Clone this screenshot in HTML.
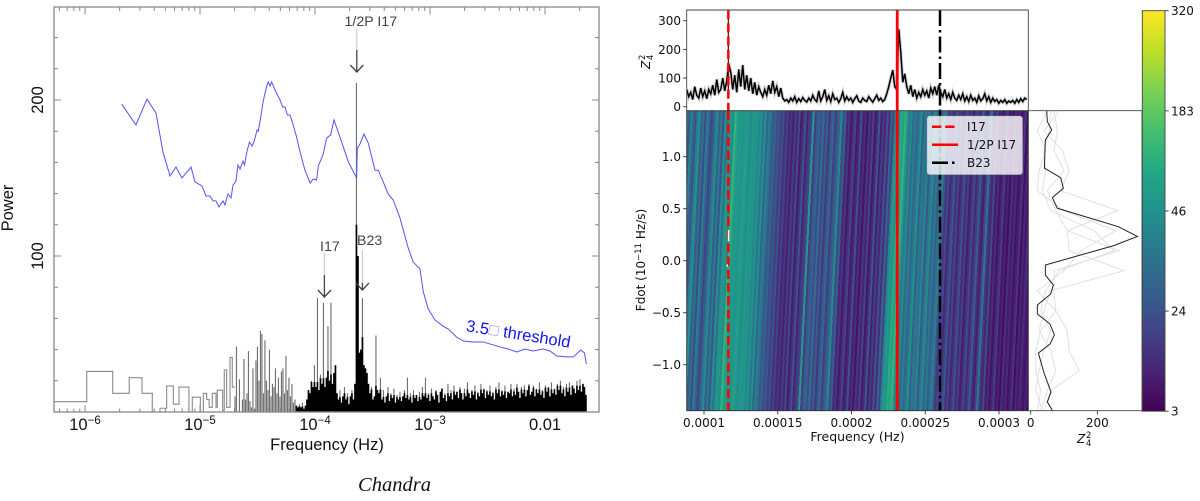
<!DOCTYPE html>
<html lang="en">
<head>
<meta charset="utf-8">
<title>Chandra power spectrum and Z²₄ search</title>
<style>
html,body{margin:0;padding:0;background:#fff;}
svg{display:block;}
.hv{font-family:"Liberation Sans",sans-serif;}
.dj{font-family:"DejaVu Sans",sans-serif;font-size:12px;fill:#111;}
</style>
</head>
<body>
<svg id="fig" xmlns="http://www.w3.org/2000/svg" width="1200" height="501" viewBox="0 0 1200 501">
<defs>
<clipPath id="clipTop"><rect x="686.7" y="10" width="341.6" height="100.7"/></clipPath>
<clipPath id="clipHeat"><rect x="686.7" y="110.7" width="341.6" height="300"/></clipPath>
<clipPath id="clipMarg"><rect x="1028.3" y="110.7" width="113.7" height="300"/></clipPath>
<linearGradient id="viridisGrad" x1="0" y1="1" x2="0" y2="0">
<stop offset="0" stop-color="#440154"/><stop offset="0.1" stop-color="#482475"/><stop offset="0.2" stop-color="#414487"/><stop offset="0.3" stop-color="#355f8d"/><stop offset="0.4" stop-color="#2a788e"/><stop offset="0.5" stop-color="#21918c"/><stop offset="0.6" stop-color="#22a884"/><stop offset="0.7" stop-color="#44bf70"/><stop offset="0.8" stop-color="#7ad151"/><stop offset="0.9" stop-color="#bddf26"/><stop offset="1" stop-color="#fde725"/>
</linearGradient>
</defs>

<g id="leftChart"></g>
<text class="hv" font-size="16.5" fill="#111" text-anchor="middle" transform="translate(13,208) rotate(-90)">Power</text>
<text class="hv" font-size="16.5" fill="#111" text-anchor="middle" x="327" y="450">Frequency (Hz)</text>
<text font-family="'Liberation Serif',serif" font-style="italic" font-size="20.5" fill="#111" text-anchor="middle" x="394.500" y="491">Chandra</text>
<text class="hv" font-size="16.5" fill="#1515ee" transform="translate(465.500,331) rotate(9.200)">3.5<tspan fill="#9a9af5">□</tspan> threshold</text>

<g id="topPanel"></g>
<g id="heatPanel"></g>
<g id="margPanel"></g>
<g id="cbar"></g>

<g transform="translate(650,69) rotate(-90)">
<text class="dj" font-style="italic" x="0" y="0">Z</text>
<text class="dj" style="font-size:8.500px" x="9" y="-5">2</text>
<text class="dj" style="font-size:8.500px" x="9" y="3">4</text>
</g>
<text class="dj" style="font-size:12px" text-anchor="middle" transform="translate(645,260) rotate(-90)">Fdot (10<tspan dy="-4" style="font-size:8.500px">−11</tspan><tspan dy="4"> Hz/s)</tspan></text>
<text class="dj" style="font-size:12.500px" text-anchor="middle" x="857.500" y="441">Frequency (Hz)</text>
<g transform="translate(1077,443)">
<text class="dj" font-style="italic" x="0" y="0">Z</text>
<text class="dj" style="font-size:8.500px" x="9" y="-5">2</text>
<text class="dj" style="font-size:8.500px" x="9" y="3">4</text>
</g>

<g>
<rect x="927.300" y="116.300" width="95" height="58" rx="2.500" fill="#fff" fill-opacity="0.8" stroke="#ccc" stroke-width="0.800"/>
<line x1="932" x2="958" y1="126.700" y2="126.700" stroke="#f00" stroke-width="2.500" stroke-dasharray="9.250 4"/>
<text class="dj" x="967" y="131">I17</text>
<line x1="932" x2="958" y1="144.700" y2="144.700" stroke="#f00" stroke-width="2.500"/>
<text class="dj" x="967" y="149">1/2P I17</text>
<line x1="932" x2="958" y1="162.700" y2="162.700" stroke="#000" stroke-width="2.500" stroke-dasharray="16 4 2.500 4"/>
<text class="dj" x="967" y="167">B23</text>
</g>
</svg>

<script>
/* ---------- left chart data ---------- */
const thresholdLogFreq = [-5.681,-5.557,-5.461,-5.383,-5.322,-5.261,-5.209,-5.157,-5.078,-5.043,-4.983,-4.948,-4.913,-4.887,-4.861,-4.835,-4.8,-4.783,-4.757,-4.73,-4.713,-4.687,-4.67,-4.652,-4.626,-4.613,-4.591,-4.57,-4.548,-4.528,-4.504,-4.493,-4.472,-4.45,-4.42,-4.406,-4.391,-4.377,-4.339,-4.304,-4.281,-4.261,-4.24,-4.217,-4.194,-4.165,-4.13,-4.087,-4.043,-4.015,-3.986,-3.971,-3.928,-3.899,-3.864,-3.835,-3.768,-3.71,-3.638,-3.632,-3.609,-3.574,-3.537,-3.478,-3.45,-3.406,-3.363,-3.32,-3.261,-3.189,-3.145,-3.087,-3.058,-3.015,-2.957,-2.887,-2.841,-2.768,-2.71,-2.626,-2.539,-2.391,-2.322,-2.246,-2.174,-2.104,-2.017,-1.957,-1.898,-1.812,-1.754,-1.689,-1.657,-1.64];
const thresholdPower = [197.4,184,200.6,191.7,166.7,151.3,157,150,157,147.4,144.9,138.5,138.5,135.3,135.3,131.4,135.3,132.7,139.7,137.2,145.5,148,158.3,155.8,160.9,158.3,167.3,173,170.5,173.7,180.8,180,189,199.4,209,211.5,209,211.5,205,200,195.5,195.5,190.4,190.4,185,177.6,166.7,155,146.8,149.4,148.7,157.7,165.4,175.6,177.6,187.2,173,160.3,150,169.2,171.8,178.2,172.4,155,155,147.4,139.7,135.9,124.4,105,96,91.7,76.9,66,59,55,53.2,48,45.5,44.9,44.9,41.7,40.4,38.5,40.4,39.1,40.4,39.1,35.9,35.3,35.3,39.7,37.8,30.8];
const stepEdgesLog = [-6.27,-5.985,-5.759,-5.615,-5.504,-5.415,-5.348,-5.29,-5.232,-5.183,-5.096,-5.067,-4.997,-4.971,-4.942,-4.92,-4.893,-4.861,-4.85,-4.803,-4.789,-4.768,-4.739,-4.719,-4.696];
const stepPower = [6.6,26,12,22,12,0,2.4,16.7,5,16,0,9.5,0,12,8,3,12,3,14,1,27,3,35,16];
const spikeStartLog = -4.696;
const spikeStepLog = 0.013043;
const spikePower = [10,42,0,21,0,8,34,8,12,39,7,3,28,2,33,42,20,52,
50,12,46,20,14,40,10,18,16,28,12,22,10,26,28,12,36,14,22,10,18,6,8,4,3,5,
3,6,2,4,8,14,12,20,16,30,16,73,14,24,18,70,16,22,55,20,70,18,25,30,12,8,14,6,10,16,8,12,5,10,14,8,18,211,100,38,40,73,30,28,25,18,12,16,8,10,49,14,12,22,
8,14,6,10,16,7,12,9,15,6,11,8,13,7,10,14,9,22,8,12,6,14,9,11,7,13,8,16,10,22,9,12,7,15,10,8,14,11,6,13,
15,9,12,7,18,10,14,8,17,11,13,9,16,12,8,15,10,19,12,9,14,11,17,8,13,10,18,12,15,9,14,11,17,10,13,8,16,12,19,10,
14,11,17,9,13,12,18,10,15,11,18,13,9,16,12,17,10,14,18,11,13,17,10,15,12,19,11,14,9,17,13,16,10,19,12,15,11,18,14,20,12,16,10,18,13,19,11,17,15,12,20,14,21,13,18,16,11];
const decadeExponents = [-6,-5,-4,-3];
const powerTicks = [100,200];

/* ---------- right chart data ---------- */
const markerFreqI17 = 1.165e-4;
const markerFreqHalfP = 2.31e-4;
const markerFreqB23 = 2.6e-4;
const freqTicks = [1e-4,1.5e-4,2e-4,2.5e-4,3e-4];
const freqTickLabels = ["0.0001","0.00015","0.0002","0.00025","0.0003"];
const zTopTicks = [0,100,200,300];
const fdotTicks = [1,0.5,0,-0.5,-1];
const fdotTickLabels = ["1.0","0.5","0.0","−0.5","−1.0"];
const marginalTicks = [0,200];
const colorbarTicks = [3,24,46,183,320];
const traceStartFreq = 8.83e-5;
const traceStepFreq = 1.356e-6;
const traceZ = [60,35,50,25,70,40,30,65,35,55,28,60,45,75,40,95,50,60,100,55,90,
150,120,60,110,50,130,70,145,60,110,55,100,45,85,40,70,50,35,60,40,75,45,90,50,70,35,65,30,20,
25,15,30,20,35,15,28,18,32,22,16,30,20,40,25,18,55,20,35,60,22,38,18,45,25,30,15,28,50,20,35,22,30,15,28,38,20,15,30,22,18,35,25,16,28,40,22,30,18,25,
45,70,100,128,70,60,270,190,85,115,70,45,75,35,60,30,50,35,60,40,55,30,65,45,70,40,75,50,35,60,30,45,25,50,30,22,40,25,45,20,35,18,40,22,30,15,38,20,28,45,20,35,15,30,18,25,12,22,15,25,12,20,15,22,12,25,15,28,18,30,25];
const stripeStartFreq = 8.2e-5;
const stripeStepFreq = 1.356e-6;
const stripeZ = [30,36,26,42,30,
24,38,48,28,34,22,40,30,20,26,36,44,28,38,24,46,34,52,60,44,
130,90,56,70,48,62,80,52,44,66,50,
58,42,50,36,46,30,40,34,26,
30,22,26,18,24,14,20,12,
16,10,18,12,22,9,15,24,11,17,
20,70,18,26,30,22,34,20,28,16,26,32,18,24,30,44,22,28,
12,16,8,14,20,9,12,24,10,14,7,16,11,20,8,13,26,10,18,12,
24,14,30,20,42,70,46,110,85,130,
60,38,44,32,40,30,36,46,28,38,34,42,26,36,44,30,38,28,34,40,
24,16,22,12,18,26,14,20,11,17,24,13,19,9,15,22,12,18,28,14,10,20,36,16,12,22,
9,14,7,12,18,8,11,6,15,9,13,7,10,16,6,12,8,14,9,7,11,6,13,8];
const stripeTiltFreqPerFdot = 3.5e-6;
const marginFdot = [1.442,1.337,1.257,1.161,0.891,0.798,0.696,0.606,0.504,0.327,0.233,0.144,-0.041,-0.138,-0.234,-0.32,-0.426,-0.513,-0.609,-0.714,-0.801,-0.888,-1.08,-1.262,-1.358,-1.445];
const marginZ = [48,50,63,44,41,90,98,65,80,263,320,248,44,44,68,60,20,20,58,71,58,23,40,61,50,66];
const greyFdot = [1.442,1.25,1.058,0.865,0.673,0.481,0.288,0.096,-0.096,-0.288,-0.481,-0.673,-0.865,-1.058,-1.25,-1.442];
const greyA = [85,40,95,115,90,262,110,115,280,60,40,25,60,75,50,30];
const greyB = [50,20,45,25,20,100,255,150,100,20,75,110,115,145,60,40];
const greyC = [70,80,70,100,50,75,110,265,70,70,75,30,15,15,30,20];
const greyD = [60,55,40,45,35,60,190,250,85,45,30,60,40,25,15,35];

/* ---------- axis functions ---------- */
const xL = l => 85 + (l + 6) * 115;
const yL = p => 412 - p * 1.56;
const xF = f => 704 + (f - 1e-4) * 1.475e6;
const yT = z => 106.7 - z * 0.2867;
const yD = d => 260.7 - d * 104;
const xM = z => 1030.7 + z / 3;
const NS = "http://www.w3.org/2000/svg";
function mk(parent, tag, attrs, text){
  const el = document.createElementNS(NS, tag);
  for (const k in attrs) el.setAttribute(k, attrs[k]);
  if (text !== undefined) el.textContent = text;
  parent.appendChild(el);
  return el;
}

/* ---------- left chart ---------- */
const L = document.getElementById('leftChart');
const gray = "#888";
let tickD = "";
for (let e = -7; e <= -1; e++) {
  for (let m = 1; m <= 9; m++) {
    const lg = e + Math.log10(m);
    const x = xL(lg);
    if (x < 54 || x > 599) continue;
    const len = m === 1 ? 7 : 3.5;
    tickD += `M${x} 412V${412 - len}M${x} 7.500V${7.500 + len}`;
  }
}
for (let p = 0; p <= 250; p += 20) {
  const y = yL(p);
  if (y < 8) continue;
  tickD += `M54 ${y}H${p % 100 === 0 ? 61 : 58}M599 ${y}H${p % 100 === 0 ? 592 : 595}`;
}
const ticksEl = mk(L, 'path', {d: tickD, stroke: gray, 'stroke-width': 1, fill: 'none'});



let stepD = `M${xL(stepEdgesLog[0])} ${yL(stepPower[0])}`;
stepPower.forEach((p, i) => { stepD += `H${xL(stepEdgesLog[i + 1])}V${yL(stepPower[i + 1] === undefined ? p : stepPower[i + 1])}`; });
const stepEl = mk(L, 'path', {d: stepD, stroke: '#8a8a8a', 'stroke-width': 1.100, fill: 'none'});



let spikeD = "";
let baseD = "";
spikePower.forEach((p, i) => {
  const x = xL(spikeStartLog + i * spikeStepLog);
  spikeD += `M${x} 412V${yL(p)}`;
  if (x >= 296) {
    const prev = i > 0 ? spikePower[i - 1] : p;
    const next = i < spikePower.length - 1 ? spikePower[i + 1] : p;
    const mid = [prev, p, next].sort((a, b) => a - b)[1];
    baseD += `M${x} 412V${yL(Math.min(p, mid * 1.2))}`;
  }
});
const spikeEl = mk(L, 'path', {d: spikeD, stroke: '#707070', 'stroke-width': 1.150, fill: 'none'});


const baseEl = mk(L, 'path', {d: baseD, stroke: '#000', 'stroke-width': 1.650, fill: 'none'});



const thEl = mk(L, 'polyline', {points: thresholdLogFreq.map((l, i) => `${xL(l)},${yL(thresholdPower[i])}`).join(' '), fill: 'none', stroke: '#5252ff', 'stroke-width': 1});



const frameEl = mk(L, 'rect', {x: 54, y: 7, width: 545, height: 405, fill: 'none', stroke: gray, 'stroke-width': 1.300});



powerTicks.forEach(p => {
  const t = mk(L, 'text', {class: 'hv', 'font-size': 16.500, fill: '#111', 'text-anchor': 'middle', transform: `translate(43,${yL(p)}) rotate(-90)`}, String(p));
  
  
});
decadeExponents.forEach(e => {
  const t = mk(L, 'text', {class: 'hv', 'font-size': 16.500, fill: '#111', 'text-anchor': 'middle', x: xL(e), y: 430});
  
  
  mk(t, 'tspan', {}, '10');
  mk(t, 'tspan', {dy: -6, 'font-size': 11.500}, '−' + Math.abs(e));
});
const t001 = mk(L, 'text', {class: 'hv', 'font-size': 16.500, fill: '#111', 'text-anchor': 'middle', x: xL(-2), y: 430}, '0.01');



const arrowX = [356.8, 324.4, 362.4];
const arrowTop = [29, 253, 250];
const arrowMid = [50, 275, 283];
const arrowTip = [72, 297, 290];
const arrowLabel = ["1/2P I17", "I17", "B23"];
const arrowLabelX = [344.5, 320, 357];
const arrowLabelY = [26, 251, 245];
arrowLabel.forEach((name, i) => {
  const light = mk(L, 'line', {x1: arrowX[i], x2: arrowX[i], y1: arrowTop[i], y2: arrowMid[i], stroke: '#cfcfcf', 'stroke-width': 1.300});
  
  
  const a = mk(L, 'path', {d: `M${arrowX[i]} ${arrowMid[i]}V${arrowTip[i]}M${arrowX[i] - 6.500} ${arrowTip[i] - 7}L${arrowX[i]} ${arrowTip[i]}L${arrowX[i] + 6.500} ${arrowTip[i] - 7}`, fill: 'none', stroke: '#444', 'stroke-width': 1.300});
  
  
  const t = mk(L, 'text', {class: 'hv', 'font-size': 14.200, fill: '#444', x: arrowLabelX[i], y: arrowLabelY[i]}, name);
  
  
});

/* ---------- colour map ---------- */
const vStops = [[68,1,84],[72,36,117],[65,68,135],[53,95,141],[42,120,142],[33,145,140],[34,168,132],[68,191,112],[122,209,81],[189,223,38],[253,231,37]];
function zFrac(z){
  const c = colorbarTicks;
  if (z <= c[0]) return 0;
  for (let i = 0; i < c.length - 1; i++) {
    if (z <= c[i + 1]) return (i + (z - c[i]) / (c[i + 1] - c[i])) / 4;
  }
  return 1;
}
function viridis(z){
  const t = zFrac(z) * 10;
  const i = Math.min(9, Math.floor(t));
  const f = t - i;
  const rgb = [0, 1, 2].map(k => Math.round(vStops[i][k] + (vStops[i + 1][k] - vStops[i][k]) * f));
  return `rgb(${rgb.join(',')})`;
}

/* ---------- heatmap ---------- */
const H = document.getElementById('heatPanel');
const hg = mk(H, 'g', {'clip-path': 'url(#clipHeat)'});


mk(hg, 'rect', {x: 686.7, y: 110.7, width: 341.6, height: 300, fill: '#414487'});
stripeZ.forEach((z, i) => {
  const f0 = stripeStartFreq + i * stripeStepFreq;
  const f1 = f0 + stripeStepFreq;
  const tilt = stripeTiltFreqPerFdot * 1.45;
  const pts = [[f0 + tilt, 1.45], [f1 + tilt + 2e-7, 1.45], [f1 - tilt + 2e-7, -1.45], [f0 - tilt, -1.45]];
  const s = mk(hg, 'polygon', {points: pts.map(p => `${xF(p[0])},${yD(p[1])}`).join(' '), fill: viridis(z), 'shape-rendering': 'crispEdges'});
  
  
});
const hLines = mk(H, 'g', {'clip-path': 'url(#clipHeat)'});


mk(hLines, 'line', {x1: xF(markerFreqI17), x2: xF(markerFreqI17), y1: 110.7, y2: 410.7, stroke: '#f00', 'stroke-width': 2.500, 'stroke-dasharray': '9.250 4'});
mk(hLines, 'line', {x1: xF(markerFreqHalfP), x2: xF(markerFreqHalfP), y1: 110.7, y2: 410.7, stroke: '#f00', 'stroke-width': 2.800});
mk(hLines, 'line', {x1: xF(markerFreqB23), x2: xF(markerFreqB23), y1: 110.7, y2: 410.7, stroke: '#000', 'stroke-width': 2.500, 'stroke-dasharray': '16 4 2.500 4'});
const speckA = mk(H, 'rect', {x: 727.8, y: 230, width: 1.500, height: 11, fill: '#fff'});


const speckB = mk(H, 'rect', {x: 726.5, y: 264.500, width: 1.500, height: 2, fill: '#fff'});


const hFrame = mk(H, 'rect', {x: 686.7, y: 110.7, width: 341.6, height: 300, fill: 'none', stroke: '#333', 'stroke-width': 0.900});


freqTicks.forEach((f, i) => {
  const tk = mk(H, 'line', {x1: xF(f), x2: xF(f), y1: 410.7, y2: 414.5, stroke: '#333', 'stroke-width': 0.900});
  
  
  const t = mk(H, 'text', {class: 'dj', 'text-anchor': 'middle', x: xF(f), y: 427}, freqTickLabels[i]);
  
  
});
fdotTicks.forEach((d, i) => {
  const tk = mk(H, 'line', {x1: 683, x2: 686.7, y1: yD(d), y2: yD(d), stroke: '#333', 'stroke-width': 0.900});
  
  
  const t = mk(H, 'text', {class: 'dj', 'text-anchor': 'end', x: 681, y: yD(d) + 4.500}, fdotTickLabels[i]);
  
  
});

/* ---------- top trace panel ---------- */
const T = document.getElementById('topPanel');
const tg = mk(T, 'g', {'clip-path': 'url(#clipTop)'});


const tracePts = traceZ.map((z, i) => `${xF(traceStartFreq + i * traceStepFreq)},${yT(z)}`).join(' ');
const shadow = mk(tg, 'polyline', {points: tracePts, fill: 'none', stroke: '#999', 'stroke-width': 3.500, 'stroke-opacity': 0.450});


const trace = mk(tg, 'polyline', {points: tracePts, fill: 'none', stroke: '#000', 'stroke-width': 1.500});


mk(tg, 'line', {x1: xF(markerFreqI17), x2: xF(markerFreqI17), y1: 10, y2: 96, stroke: '#222', 'stroke-width': 1.200});
mk(tg, 'line', {x1: xF(markerFreqI17), x2: xF(markerFreqI17), y1: 10, y2: 110.7, stroke: '#f00', 'stroke-width': 2.500, 'stroke-dasharray': '9.250 4'});
mk(tg, 'line', {x1: xF(markerFreqHalfP), x2: xF(markerFreqHalfP), y1: 10, y2: 110.7, stroke: '#f00', 'stroke-width': 2.800});
mk(tg, 'line', {x1: xF(markerFreqB23), x2: xF(markerFreqB23), y1: 10, y2: 110.7, stroke: '#000', 'stroke-width': 2.500, 'stroke-dasharray': '16 4 2.500 4'});
const tFrame = mk(T, 'path', {d: 'M686.7 110.7V10H1028.3V110.7', fill: 'none', stroke: '#444', 'stroke-width': 0.900});


zTopTicks.forEach(z => {
  const tk = mk(T, 'line', {x1: 683, x2: 686.7, y1: yT(z), y2: yT(z), stroke: '#333', 'stroke-width': 0.900});
  
  
  const t = mk(T, 'text', {class: 'dj', 'text-anchor': 'end', x: 681, y: yT(z) + 4.500}, String(z));
  
  
});

/* ---------- marginal panel ---------- */
const M = document.getElementById('margPanel');
const mg = mk(M, 'g', {'clip-path': 'url(#clipMarg)'});


[greyA, greyB, greyC, greyD].forEach(vals => {
  const g = mk(mg, 'polyline', {points: vals.map((z, i) => `${xM(z)},${yD(greyFdot[i])}`).join(' '), fill: 'none', stroke: '#e0e0e0', 'stroke-width': 1});
  
  
});
const mBlack = mk(mg, 'polyline', {points: marginZ.map((z, i) => `${xM(z)},${yD(marginFdot[i])}`).join(' '), fill: 'none', stroke: '#222', 'stroke-width': 1});


const mFrame = mk(M, 'path', {d: 'M1028.3 110.7H1142V410.7H1028.3', fill: 'none', stroke: '#444', 'stroke-width': 0.900});


marginalTicks.forEach(z => {
  const tk = mk(M, 'line', {x1: xM(z), x2: xM(z), y1: 410.7, y2: 414.5, stroke: '#333', 'stroke-width': 0.900});
  
  
  const t = mk(M, 'text', {class: 'dj', 'text-anchor': 'middle', x: xM(z), y: 427}, String(z));
  
  
});

/* ---------- colorbar ---------- */
const C = document.getElementById('cbar');
const cRect = mk(C, 'rect', {x: 1142.3, y: 10.7, width: 22.7, height: 400.5, fill: 'url(#viridisGrad)', stroke: '#444', 'stroke-width': 0.900});


colorbarTicks.forEach(z => {
  const y = 411.2 - zFrac(z) * 400.5;
  const tk = mk(C, 'line', {x1: 1165, x2: 1168.7, y1: y, y2: y, stroke: '#333', 'stroke-width': 0.900});
  
  
  const t = mk(C, 'text', {class: 'dj', x: 1171, y: y + 4.500}, String(z));
  
  
});
</script>
</body>
</html>
